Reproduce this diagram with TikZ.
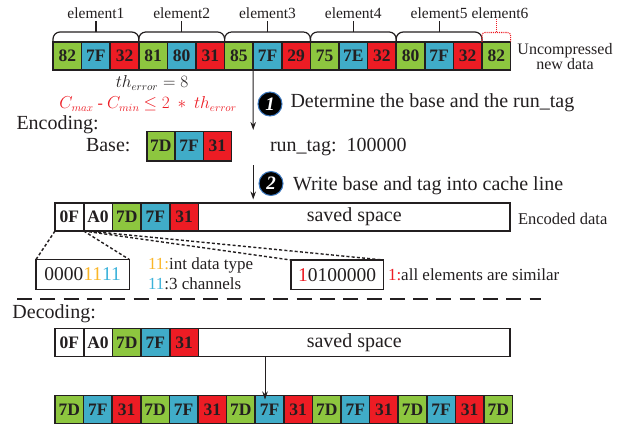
\documentclass[tikz,border=0pt]{standalone}
\usepackage{fontspec}
\setmainfont{Liberation Serif}
\usetikzlibrary{arrows.meta}
\definecolor{cg}{RGB}{141,198,63}
\definecolor{cb}{RGB}{64,172,200}
\definecolor{cr}{RGB}{237,28,36}
\definecolor{corange}{RGB}{250,182,40}
\definecolor{cblue}{RGB}{60,178,218}
\definecolor{ink}{RGB}{35,31,32}
\definecolor{ringblue}{RGB}{60,120,190}
\newcommand{\fs}[1]{\fontsize{#1}{#1}\selectfont}
\begin{document}
\begin{tikzpicture}[x=1pt,y=-1pt,
  cell/.style={draw=ink, line width=1.6pt, minimum width=28.6pt, minimum height=28pt,
    inner sep=0pt, outer sep=0pt, anchor=north west, text=ink, font=\fs{17.5}\bfseries},
  lab/.style={text=ink, inner sep=0pt, outer sep=0pt},
  brace/.style={draw=ink, line width=1.2pt, rounded corners=7pt},
  arr/.style={draw=ink, line width=1pt, -{Stealth[length=8pt,width=5.5pt]}},
  stepnum/.style={circle, fill=black, draw=ringblue, line width=1pt, minimum size=24pt,
    inner sep=0pt, text=white, font=\fs{19}\bfseries\itshape},
  dots/.style={draw=ink, line width=1.4pt, dash pattern=on 3pt off 2.2pt},
  bitbox/.style={draw=ink, line width=1.6pt, inner sep=0pt, outer sep=0pt, anchor=north west,
    text=ink, font=\fs{19.5}},
]
\useasboundingbox (0,0) rectangle (621,425);

% ---------- top row ----------
\foreach \v/\c [count=\i from 0] in {82/cg,7F/cb,32/cr,81/cg,80/cb,31/cr,85/cg,7F/cb,29/cr,75/cg,7E/cb,32/cr,80/cg,7F/cb,32/cr,82/cg}
  \node[cell, fill=\c] (t\i) at ({53+28.6*\i},42) {\v};

\coordinate (by) at (0,32);
\foreach \a/\b/\k in {0/2/1,3/5/2,6/8/3,9/11/4,12/14/5}{
  \node[lab, font=\fs{15.5}, anchor=base] (e\k) at ({53+28.6*\a+42.9},18.5) {element\k};
  \draw[brace] (t\a.north west) |- (e\k.south |- by) -| (t\b.north east);
  \draw[ink, line width=1.2pt] (e\k.south |- by) -- ([yshift=-2pt]e\k.south);
}
\node[lab, font=\fs{15.5}, anchor=base] (e6) at (500,18.5) {element6};
\coordinate (by6) at (0,32.5);
\draw[cr, line width=1.1pt, densely dotted, rounded corners=3pt] (t15.north west) |- (t15.north |- by6) -| (t15.north east);
\draw[cr, line width=1.1pt, densely dotted] (t15.north |- by6) -- (t15.north |- e6.south);

\node[lab, font=\fs{16}, align=center, anchor=center] (unc) at (565,57) {Uncompressed\\[-1pt]new data};

% ---------- threshold text ----------
\node[lab, font=\fs{16}, anchor=base] (th) at (152,87.5) {$th_{error}=8$};
\node[lab, font=\fs{16}, anchor=base, text=cr] (cond) at (148,109) {$C_{max}$ - $C_{min}$ $\leq 2\ \ast\ th_{error}$};

% ---------- step 1 ----------
\coordinate (a1) at (253.2,130);
\draw[arr] (t7.south west) -- (a1);
\node[stepnum] (n1) at (270,104) {1};
\node[lab, font=\fs{20}, anchor=base west] (d1) at (290.5,108) {Determine the base and the run\_tag};

\node[lab, font=\fs{20}, anchor=base west] (enc) at (16.5,130) {Encoding:};
\node[lab, font=\fs{20}, anchor=base west] (basel) at (86,151.5) {Base:};
\foreach \v/\c [count=\i from 0] in {7D/cg,7F/cb,31/cr}
  \node[cell, fill=\c, minimum width=28.3pt, minimum height=29pt] (bs\i) at ({146.7+28.3*\i},131.7) {\v};
\node[lab, font=\fs{20}, anchor=base west] (rt) at (270,151.5) {run\_tag:\ \ 100000};

% ---------- step 2 ----------
\coordinate (a2s) at (253.2,165);
\coordinate (a2e) at (253.2,199.5);
\draw[arr] (a2s) -- (a2e);
\node[stepnum] (n2) at (271,183.5) {2};
\node[lab, font=\fs{20}, anchor=base west] (d2) at (293,190) {Write base and tag into cache line};

% ---------- encoded row ----------
\foreach \v/\c [count=\i from 0] in {0F/white,A0/white,7D/cg,7F/cb,31/cr}
  \node[cell, fill=\c, minimum width=28.7pt] (c\i) at ({55+28.7*\i},203) {\v};
\node[cell, fill=white, minimum width=311.5pt, font=\fs{20}] (es) at (198.5,203) {saved space};
\node[lab, font=\fs{16.5}, anchor=base west] (encd) at (518,224) {Encoded data};

% ---------- bit boxes ----------
\node[bitbox, minimum width=93.3pt, minimum height=30pt] (box1) at (36,259.5)
  {0000\textcolor{corange}{11}\textcolor{cblue}{11}};
\node[bitbox, minimum width=92.6pt, minimum height=29.5pt] (box2) at (290.7,260)
  {\textcolor{cr}{1}0100000};
\draw[dots] (c0.south west) -- (box1.north west);
\draw[dots] (c0.south east) -- (box1.north east);
\draw[dots] (c1.south west) -- (box2.north west);
\draw[dots] ([xshift=4pt]c1.south west) -- (box2.north east);

\node[lab, font=\fs{17}, anchor=base west] (l1) at (148,269) {\textcolor{corange}{11:}int data type};
\node[lab, font=\fs{17}, anchor=base west] (l2) at (148,289) {\textcolor{cblue}{11}:3 channels};
\node[lab, font=\fs{17}, anchor=base west] (l3) at (388,280) {\textcolor{cr}{1:}all elements are similar};

% ---------- separator ----------
\coordinate (sepL) at (17,299);
\coordinate (sepR) at (541,299);
\draw[ink, line width=1.8pt, dash pattern=on 15pt off 8.3pt] (sepL) -- (sepR);

% ---------- decoding ----------
\node[lab, font=\fs{20}, anchor=base west] (dec) at (12.5,318) {Decoding:};
\foreach \v/\c [count=\i from 0] in {0F/white,A0/white,7D/cg,7F/cb,31/cr}
  \node[cell, fill=\c, minimum width=28.7pt] (d\i) at ({55+28.7*\i},328.5) {\v};
\node[cell, fill=white, minimum width=311.5pt, font=\fs{20}] (ds) at (198.5,328.5) {saved space};

\foreach \v/\c [count=\i from 0] in {7D/cg,7F/cb,31/cr,7D/cg,7F/cb,31/cr,7D/cg,7F/cb,31/cr,7D/cg,7F/cb,31/cr,7D/cg,7F/cb,31/cr,7D/cg}
  \node[cell, fill=\c] (b\i) at ({55+28.6*\i},395.5) {\v};

\coordinate (a3) at (265,0);
\draw[arr] (ds.south -| a3) -- ([yshift=-4pt]b7.north -| a3);
\end{tikzpicture}
\end{document}
